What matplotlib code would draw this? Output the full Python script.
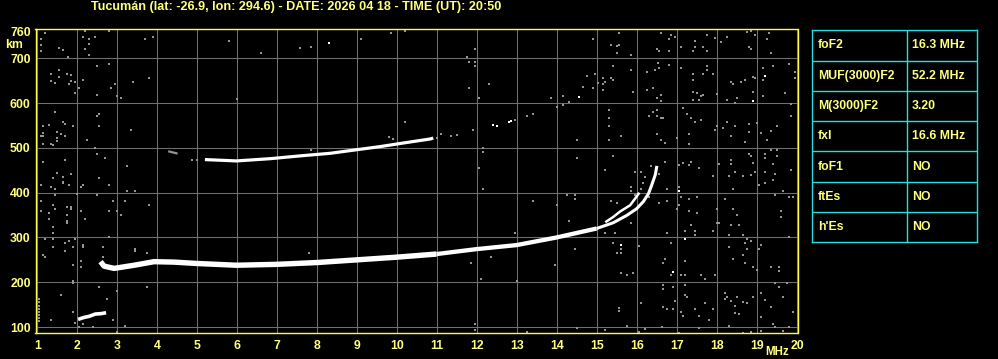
import matplotlib
matplotlib.use("Agg")
import matplotlib.pyplot as plt

plt.rcParams['font.family'] = ['Liberation Sans', 'DejaVu Sans']
plt.rcParams['font.weight'] = 'bold'

# ---- data (frequency MHz, virtual height km) ----
title = "Tucumán (lat: -26.9, lon: 294.6) - DATE: 2026 04 18 - TIME (UT): 20:50"

x_ticks = list(range(1, 21))
y_ticks = [100, 200, 300, 400, 500, 600, 700]

# F2 ordinary trace (1-hop)
f2_freq = [2.58, 2.67, 2.92, 3.42, 3.92, 4.42, 4.98, 5.98, 6.98, 7.98, 8.98, 9.98,
           10.98, 11.98, 12.98, 13.98, 14.98, 15.4, 15.73, 15.98, 16.15, 16.28, 16.36, 16.45, 16.49]
f2_km = [246, 236, 231, 238, 246, 245, 242, 238, 240, 244, 250, 256,
         263, 274, 283, 300, 320, 333, 349, 364, 380, 398, 417, 440, 460]

# branch splitting off near the critical frequency
x_freq = [15.2, 15.4, 15.57, 15.82, 15.98, 16.05]
x_km = [334, 346, 358, 372, 391, 400]

# second hop trace
hop2_freq = [5.19, 5.98, 6.82, 7.66, 8.32, 8.9, 9.57, 10.15, 10.82, 10.9]
hop2_km = [474, 471, 476, 483, 488, 495, 503, 511, 520, 522]
hop2_stub_freq = [4.3, 4.48]
hop2_stub_km = [492, 488]

# sporadic E-ish trace
e_freq = [2.02, 2.15, 2.3, 2.45, 2.6, 2.72]
e_km = [117, 121, 124, 129, 130, 132]

# scattered noise pixels
noise_left = [(1.19, 756), (1.09, 743), (1.09, 730), (1.09, 717), (1.54, 723), (1.64, 719), (1.77, 703),
              (2.18, 762), (2.14, 748), (2.29, 743), (2.29, 733), (2.43, 748), (2.18, 721), (2.29, 708),
              (2.79, 762), (3.69, 743), (3.89, 748), (2.49, 684), (2.79, 688), (1.34, 666), (1.54, 675),
              (1.74, 666), (1.84, 663), (1.54, 658), (1.34, 649), (1.44, 645), (1.84, 650), (1.79, 643),
              (1.94, 647), (2.14, 652), (2.04, 634), (1.94, 623), (2.49, 619), (2.84, 634), (2.94, 643),
              (2.99, 617), (3.09, 612), (3.39, 648), (3.79, 657), (1.44, 581), (2.49, 572), (2.54, 576),
              (1.29, 552), (1.14, 549), (1.64, 558), (1.69, 553), (1.89, 550), (2.54, 550), (1.14, 533),
              (1.14, 527), (1.09, 527), (1.49, 535), (1.59, 531), (1.49, 522), (1.69, 527), (1.49, 515),
              (1.14, 509), (1.34, 509), (1.39, 506), (2.24, 518), (3.34, 541), (2.44, 500), (2.49, 487),
              (2.69, 478), (1.69, 473), (1.14, 468), (3.24, 460), (1.49, 445), (1.64, 436), (1.84, 442),
              (1.39, 433), (2.54, 433), (1.64, 424), (1.09, 417), (1.34, 413), (1.44, 408), (1.64, 422),
              (1.79, 417), (2.14, 417), (2.79, 417), (2.09, 413), (1.44, 395), (1.99, 398), (2.49, 395),
              (3.24, 404), (3.44, 404), (1.09, 381), (1.39, 372), (1.74, 369), (1.84, 369), (1.84, 363),
              (1.29, 355), (1.44, 363), (1.09, 359), (1.74, 350), (2.09, 359), (2.99, 359), (3.09, 350),
              (2.79, 359), (2.89, 381), (3.19, 381), (3.79, 372), (1.29, 341), (1.74, 337), (1.74, 332),
              (2.19, 341), (1.39, 323), (1.39, 310), (1.39, 296), (1.79, 292), (1.69, 288), (1.94, 296),
              (1.19, 296), (2.14, 283), (2.14, 279), (1.39, 279), (1.69, 270), (1.89, 279), (2.64, 279),
              (2.79, 301), (3.44, 274), (3.44, 270), (3.74, 265), (1.14, 261), (1.19, 256), (2.09, 247),
              (2.09, 234), (2.64, 256), (1.89, 238), (1.89, 203), (1.89, 198), (2.54, 189), (2.99, 180),
              (3.74, 189), (1.59, 171), (2.74, 162), (1.04, 162), (1.04, 155), (1.04, 148), (1.04, 141),
              (1.04, 134), (1.04, 127), (1.04, 120), (1.04, 113), (1.34, 116), (1.89, 133), (1.94, 109),
              (2.14, 107), (2.39, 100), (2.04, 100), (2.89, 116), (3.19, 102), (2.99, 89), (3.19, 103)]

noise_mid = [(5.79, 739), (6.59, 712), (7.57, 723), (7.84, 725), (9.09, 743), (9.84, 757), (10.19, 761),
             (11.74, 703), (11.79, 693), (11.94, 721), (11.94, 692), (11.94, 683), (11.79, 634), (12.29, 643),
             (12.04, 611), (13.84, 611), (14.15, 617), (14.74, 660), (14.65, 637), (14.88, 634), (14.94, 665),
             (15.02, 645), (14.90, 743), (13.98, 591), (14.29, 602), (14.13, 595), (13.23, 571), (13.38, 576),
             (12.94, 562), (11.88, 540), (10.19, 558), (11.08, 531), (11.34, 527), (11.48, 529), (11.00, 522),
             (12.13, 500), (12.13, 491), (12.03, 455), (14.48, 518), (14.48, 477), (7.84, 495), (9.79, 524),
             (9.88, 520), (5.98, 610), (9.28, 500), (12.13, 408), (13.39, 381), (13.98, 372), (14.23, 395),
             (14.44, 395), (14.44, 386), (14.29, 337), (14.44, 274), (13.94, 238), (12.94, 310), (11.84, 243),
             (12.34, 256), (12.09, 207), (12.99, 203), (7.79, 265), (11.93, 107), (11.93, 93), (13.24, 89),
             (14.49, 98), (4.86, 474), (5.0, 474)]

noise_right = [(15.54, 756), (16.59, 756), (16.84, 752), (16.94, 748), (16.79, 743), (17.74, 752), (17.94, 745),
               (18.09, 736), (18.24, 748), (18.74, 759), (18.84, 761), (18.94, 752), (19.24, 743), (19.29, 756),
               (15.34, 730), (15.49, 728), (15.54, 730), (15.49, 712), (15.84, 707), (16.49, 721), (16.54, 716),
               (16.79, 716), (17.09, 725), (17.44, 739), (17.44, 725), (17.39, 716), (17.64, 725), (17.74, 716),
               (18.79, 725), (18.84, 721), (19.34, 712), (16.52, 690), (16.79, 685), (15.39, 683), (15.84, 674),
               (16.24, 669), (16.44, 674), (16.54, 678), (17.09, 678), (17.39, 665), (17.64, 665), (17.74, 683),
               (17.74, 674), (17.89, 665), (17.39, 652), (15.14, 656), (15.19, 647), (15.34, 656), (15.39, 652),
               (15.14, 643), (15.14, 629), (15.89, 625), (16.24, 629), (16.39, 634), (16.59, 618), (16.59, 605),
               (16.49, 611), (17.39, 625), (17.49, 623), (17.64, 618), (17.59, 616), (17.39, 607), (17.54, 607),
               (17.99, 620), (18.24, 607), (18.44, 600), (18.49, 611), (18.34, 647), (18.39, 643), (18.59, 647),
               (18.69, 652), (18.89, 658), (18.94, 656), (18.89, 625), (19.14, 652), (19.14, 678), (19.39, 683),
               (19.79, 687), (19.94, 669), (19.94, 656), (19.69, 623), (19.14, 616), (19.84, 598), (15.29, 585),
               (15.29, 567), (15.29, 549), (15.29, 518), (15.59, 527), (16.39, 580), (16.49, 585), (16.29, 571),
               (16.49, 571), (16.59, 567), (16.64, 567), (17.14, 589), (17.24, 576), (17.34, 567), (17.44, 558),
               (17.59, 562), (17.94, 540), (17.99, 549), (18.14, 544), (18.24, 558), (18.34, 527), (18.44, 549),
               (18.69, 513), (18.79, 553), (18.79, 535), (18.99, 555), (19.09, 533), (19.24, 518), (19.34, 538),
               (19.49, 549), (19.84, 571), (16.49, 531), (16.59, 518), (16.69, 511), (17.29, 531), (17.29, 509),
               (16.99, 522), (15.39, 482), (15.19, 451), (15.94, 446), (16.09, 446), (16.19, 435), (16.34, 460),
               (16.54, 442), (16.69, 468), (17.04, 462), (17.14, 466), (17.34, 468), (17.29, 462), (17.54, 455),
               (17.89, 437), (18.04, 464), (18.34, 473), (18.34, 464), (18.44, 446), (18.29, 437), (18.64, 437),
               (18.79, 486), (18.84, 482), (18.89, 466), (18.94, 446), (18.84, 439), (19.19, 486), (19.19, 477),
               (19.39, 464), (19.49, 495), (19.49, 482), (19.34, 495), (19.44, 442), (19.39, 428), (19.19, 446),
               (19.84, 451), (15.84, 413), (16.14, 422), (16.09, 408), (17.04, 413), (16.74, 408), (16.74, 381),
               (16.54, 377), (17.04, 372), (17.09, 390), (17.29, 386), (17.49, 390), (16.99, 363), (17.29, 359),
               (17.49, 355), (17.34, 328), (17.44, 314), (17.44, 305), (17.19, 314), (16.74, 310), (16.84, 288),
               (16.29, 390), (15.94, 395), (15.84, 404), (15.49, 377), (15.34, 381), (15.84, 332), (15.44, 310),
               (15.19, 310), (15.59, 274), (15.59, 265), (15.49, 265), (15.39, 288), (16.04, 281), (16.64, 243),
               (16.69, 252), (16.84, 216), (15.59, 221), (15.74, 216), (15.89, 221), (17.09, 216), (17.19, 216),
               (17.19, 247), (17.59, 216), (17.69, 207), (17.94, 216), (17.99, 363), (17.99, 332), (18.19, 386),
               (18.39, 408), (18.39, 363), (18.49, 350), (18.54, 328), (18.34, 328), (18.29, 305), (18.04, 332),
               (17.89, 314), (18.64, 305), (18.74, 296), (18.69, 288), (18.84, 292), (18.29, 279), (18.74, 274),
               (18.39, 252), (18.64, 261), (18.69, 243), (18.89, 234), (18.99, 227), (19.04, 274), (19.09, 283),
               (19.04, 417), (19.19, 422), (19.44, 395), (19.64, 404), (19.79, 390), (19.89, 390), (19.59, 359),
               (19.59, 345), (19.34, 234), (19.54, 234), (19.54, 225), (19.79, 301), (19.44, 198), (19.54, 189),
               (19.74, 198), (19.64, 167), (16.64, 194), (16.64, 185), (16.89, 189), (17.19, 194), (17.19, 171),
               (17.24, 167), (16.94, 158), (16.64, 145), (16.74, 140), (16.89, 140), (17.09, 133), (17.14, 125),
               (17.44, 140), (17.54, 125), (17.69, 154), (17.89, 140), (17.79, 116), (18.19, 176), (18.24, 167),
               (18.19, 162), (18.34, 158), (18.44, 147), (18.44, 131), (18.54, 129), (18.49, 167), (18.64, 156),
               (18.74, 154), (18.89, 167), (19.09, 176), (19.19, 160), (19.34, 145), (19.09, 122), (19.39, 107),
               (19.89, 133), (19.79, 100), (15.54, 142), (15.54, 136), (16.09, 154), (16.19, 96), (16.04, 89),
               (16.62, 100), (17.04, 87), (17.54, 98), (18.29, 102), (18.64, 87), (18.84, 89), (19.09, 91),
               (19.44, 100), (19.64, 91), (15.74, 102), (15.19, 93)]

white_dots = [(8.29, 734), (12.40, 552), (12.48, 550), (12.83, 561), (12.78, 559), (14.55, 613), (19.19, 660),
              (18.89, 604), (17.04, 404), (17.19, 296), (15.59, 283), (16.89, 223)]

table_labels = ['foF2', 'MUF(3000)F2', 'M(3000)F2', 'fxI', 'foF1', 'ftEs', "h'Es"]
table_values = ['16.3 MHz', '52.2 MHz', '3.20', '16.6 MHz', 'NO', 'NO', 'NO']

YEL_TXT = '#ffff80'
YEL_LINE = '#ffff40'
GRID = '#707070'
DOT = '#959595'
CYAN = '#20e0e0'

fig = plt.figure(figsize=(9.98, 3.59), dpi=100, facecolor='black')
ax = fig.add_axes([35.5 / 998, 1 - 333.3 / 359, 762 / 998, 304 / 359])
ax.set_facecolor('black')
ax.set_xlim(0.955, 20.005)
ax.set_ylim(86, 765)

ax.set_xticks(x_ticks)
ax.set_yticks(y_ticks + [760])
ax.set_xticklabels([str(t) for t in x_ticks])
ax.set_yticklabels([str(t) for t in y_ticks] + ['760'])
ax.tick_params(length=0, colors=YEL_TXT, labelsize=8.8)
ax.tick_params(axis='y', pad=3.5)
ax.tick_params(axis='x', pad=5)
ax.grid(True, color=GRID, linewidth=0.75)
ax.get_ygridlines()[-1].set_visible(False)
ax.set_axisbelow(True)
for s in ax.spines.values():
    s.set_color(YEL_LINE)
    s.set_linewidth(1.0)

# noise
for pts in (noise_left, noise_mid, noise_right):
    ax.scatter([p[0] for p in pts], [p[1] for p in pts], s=4.2, marker='s',
               color=DOT, linewidths=0, zorder=2)

# traces: thick at low frequency, thinner towards the critical frequency
ax.plot(f2_freq[:13], f2_km[:13], color='white', lw=3.9, solid_capstyle='butt', zorder=3)
ax.plot(f2_freq[12:17], f2_km[12:17], color='white', lw=3.1, solid_capstyle='butt', zorder=3)
ax.plot(f2_freq[16:], f2_km[16:], color='white', lw=2.2, solid_capstyle='butt', zorder=3)
ax.plot(x_freq, x_km, color='white', lw=1.8, solid_capstyle='butt', zorder=3)
ax.plot(hop2_freq, hop2_km, color='white', lw=2.3, solid_capstyle='butt', zorder=3)
ax.plot(hop2_stub_freq, hop2_stub_km, color=DOT, lw=1.6, zorder=3)
ax.plot(e_freq, e_km, color='white', lw=2.6, solid_capstyle='butt', zorder=3)
ax.scatter([p[0] for p in white_dots], [p[1] for p in white_dots], s=4, marker='s',
           color='white', linewidths=0, zorder=3)

# labels
fig.text(91 / 998, 1 - 7 / 359, title, color=YEL_TXT, fontsize=9.1, ha='left', va='center')
fig.text(14 / 998, 1 - 45 / 359, 'km', color=YEL_TXT, fontsize=8.8, ha='center', va='center')
fig.text(789 / 998, 1 - 352 / 359, 'MHz', color=YEL_TXT, fontsize=8.3, ha='right', va='center')

# parameter table
tax = fig.add_axes([812.3 / 998, 1 - 242.3 / 359, 165 / 998, 212 / 359])
tax.set_facecolor('black')
tax.set_xlim(0, 1)
tax.set_ylim(len(table_labels), 0)
tax.set_xticks([])
tax.set_yticks([])
for s in tax.spines.values():
    s.set_color(CYAN)
    s.set_linewidth(1.0)
for i in range(1, len(table_labels)):
    tax.axhline(i, color=CYAN, lw=1.0)
tax.axvline(0.576, color=CYAN, lw=1.0)
for i, (lab, val) in enumerate(zip(table_labels, table_values)):
    tax.text(0.033, i + 0.5, lab, color=YEL_TXT, fontsize=8.8, ha='left', va='center')
    tax.text(0.605, i + 0.5, val, color=YEL_TXT, fontsize=8.8, ha='left', va='center')

fig.savefig('out.png', dpi=100, facecolor='black')
